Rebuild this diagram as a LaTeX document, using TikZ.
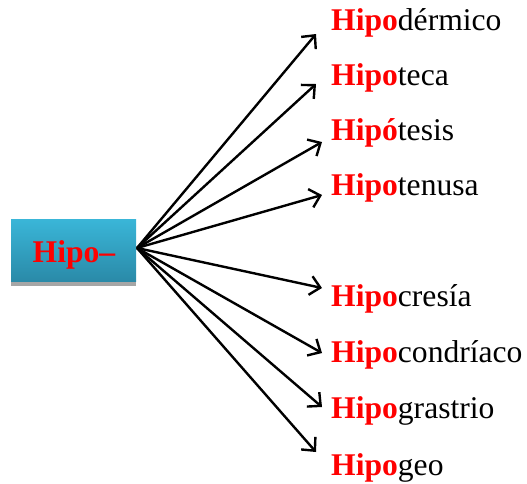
\documentclass[tikz,border=0pt]{standalone}
\usepackage{fontspec}
\setmainfont{Liberation Serif}
\usetikzlibrary{arrows.meta}
\definecolor{boxtop}{HTML}{3AB6D8}
\definecolor{boxbot}{HTML}{2A8AA8}
\definecolor{shadowgray}{HTML}{A6A6A6}
\definecolor{pref}{HTML}{FF0000}
\begin{document}
\begin{tikzpicture}[x=1pt,y=-1pt,
  word/.style={anchor=base west,inner sep=0pt,font=\fontsize{31.6}{36}\selectfont},
  link/.style={line width=2.4pt,-{Straight Barb[length=10pt,width=19pt,line width=2.4pt]}}]
\useasboundingbox (0,0) rectangle (527,483);
% prefix box with its grey base strip
\fill[shadowgray] (11,279) rectangle (136,286);
\fill[top color=boxtop,bottom color=boxbot] (11,219) rectangle (136,281);
\node[anchor=base,inner sep=0pt,text=pref,font=\fontsize{31.6}{36}\selectfont\bfseries] (pre) at (74,262) {Hipo–};
\coordinate (src) at (137,248);
% words
\newcommand{\hp}{\textcolor{pref}{\textbf{Hipo}}}
\node[word] (w1) at (331,30) {\hp dérmico};
\node[word] (w2) at (331,85) {\hp teca};
\node[word] (w3) at (331,140) {\textcolor{pref}{\textbf{Hipó}}tesis};
\node[word] (w4) at (331,195) {\hp tenusa};
\node[word] (w5) at (331,306) {\hp cresía};
\node[word] (w6) at (331,362) {\hp condríaco};
\node[word] (w7) at (331,418) {\hp grastrio};
\node[word] (w8) at (331,475) {\hp geo};
% arrow tips
\coordinate (t1) at (316,34);
\coordinate (t2) at (316,84);
\coordinate (t3) at (322,142);
\coordinate (t4) at (322,195);
\coordinate (t5) at (322,288);
\coordinate (t6) at (322,353);
\coordinate (t7) at (322,407);
\coordinate (t8) at (316,452);
\foreach \i in {1,...,8} \draw[link] (src) -- (t\i);
\end{tikzpicture}
\end{document}
